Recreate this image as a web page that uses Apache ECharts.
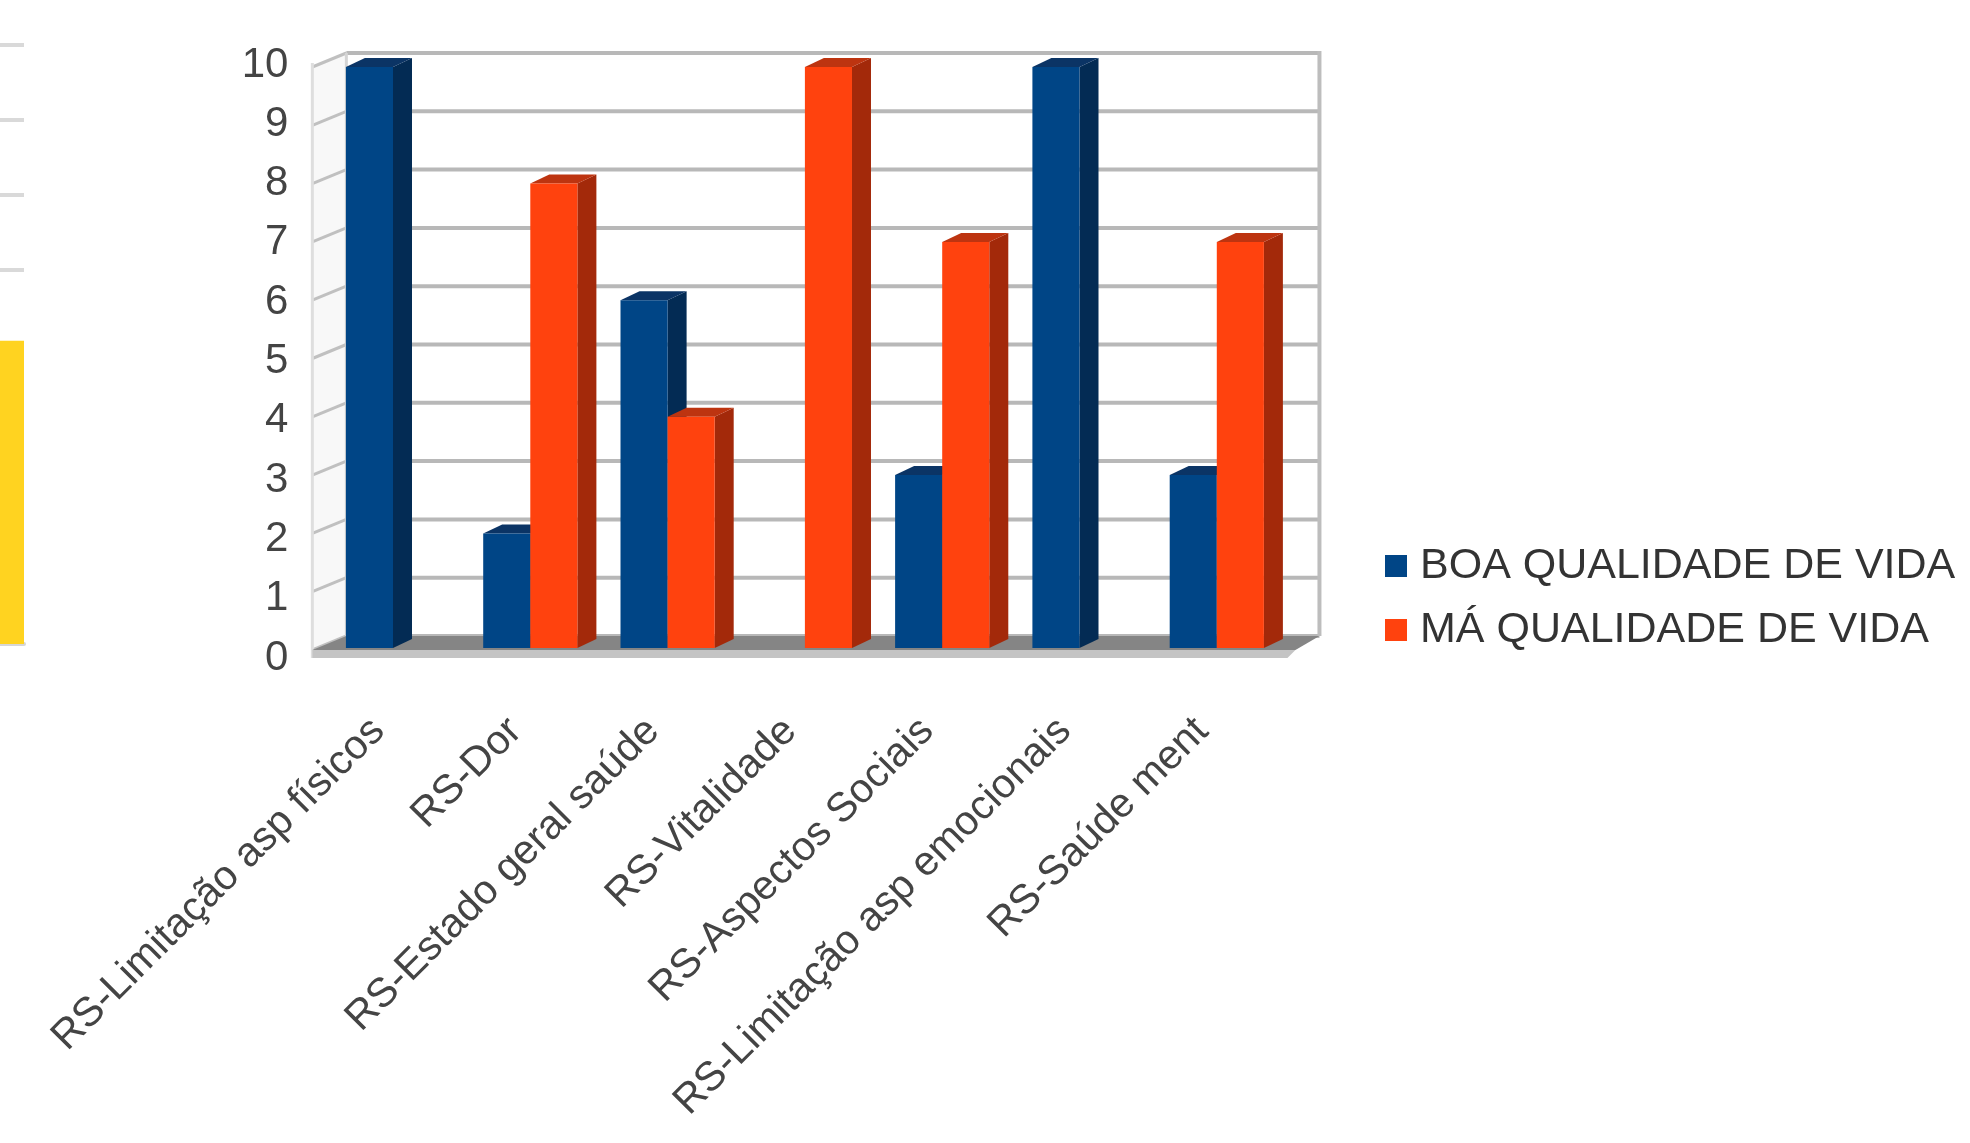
<!DOCTYPE html>
<html>
<head>
<meta charset="utf-8">
<script src="https://cdn.jsdelivr.net/npm/echarts@6/dist/echarts.min.js"></script>
<style>
html,body{margin:0;padding:0;background:#ffffff;}
#chart{width:1970px;height:1143px;}
</style>
</head>
<body>
<div id="chart"></div>
<script>
// ---- data ----
const categories = [
  'RS-Limitação asp físicos',
  'RS-Dor',
  'RS-Estado geral saúde',
  'RS-Vitalidade',
  'RS-Aspectos Sociais',
  'RS-Limitação asp emocionais',
  'RS-Saúde ment'
];
const seriesNames = ['BOA QUALIDADE DE VIDA', 'MÁ QUALIDADE DE VIDA'];
const boaValues = [10, 2, 6, 0, 3, 10, 3];
const maValues = [0, 8, 4, 10, 7, 0, 7];
const yTicks = [0, 1, 2, 3, 4, 5, 6, 7, 8, 9, 10];
// partially visible neighbouring chart on the left edge
const leftCategories = [''];
const leftValues = [4.05];
const leftTicks = [0, 1, 2, 3, 4, 5, 6, 7, 8];

// ---- styles ----
const FONT = 'Liberation Sans';
const BLUE = { front: '#004586', side: '#032b54', top: '#0b3465' };
const RED = { front: '#ff420e', side: '#a3290a', top: '#bd3410' };

const chart = echarts.init(document.getElementById('chart'));

function barRenderer(sideIdx, colors) {
  return function (params, api) {
    const v = api.value(1);
    if (!v) return null;
    const base = api.coord([api.value(0), 0]);
    const top = api.coord([api.value(0), v]);
    const band = api.size([1, 0])[0];
    const bw = band * 0.343;
    const dx = 19, dy = 9;
    const x0 = sideIdx === 0 ? base[0] - bw : base[0];
    const x1 = x0 + bw;
    const yT = top[1], yB = base[1] - 2;
    return {
      type: 'group',
      children: [
        { type: 'polygon', shape: { points: [[x1, yT], [x1 + dx, yT - dy], [x1 + dx, yB - dy], [x1, yB]] }, style: { fill: colors.side } },
        { type: 'polygon', shape: { points: [[x0, yT], [x0 + dx, yT - dy], [x1 + dx, yT - dy], [x1, yT]] }, style: { fill: colors.top } },
        { type: 'rect', shape: { x: x0, y: yT, width: bw, height: yB - yT }, style: { fill: colors.front } }
      ]
    };
  };
}

function decorRenderer(params, api) {
  const band = api.size([1, 0])[0];
  const xL = api.coord([0, 0])[0] - band / 2;
  const xR = api.coord([categories.length - 1, 0])[0] + band / 2;
  const DY = 14;
  const fL = xL - 12, bL = xL + 22, fR = xR + 10, bR = xR + 34;
  const yf = v => api.coord([0, v])[1];
  const yb = v => yf(v) - DY;
  const ymax = yTicks[yTicks.length - 1];
  const children = [];
  children.push({ type: 'polygon', shape: { points: [[fL, yf(ymax)], [bL, yb(ymax)], [bL, yb(0)], [fL, yf(0)]] }, style: { fill: '#f8f8f8' } });
  yTicks.forEach(v => {
    children.push({ type: 'line', shape: { x1: bL, y1: yb(v), x2: bR, y2: yb(v) }, style: { stroke: '#b8b8b8', lineWidth: 4 } });
    children.push({ type: 'line', shape: { x1: fL, y1: yf(v), x2: bL, y2: yb(v) }, style: { stroke: '#c0c0c0', lineWidth: 3 } });
  });
  children.push({ type: 'line', shape: { x1: fL, y1: yf(ymax) - 4, x2: fL, y2: yf(0) + 8 }, style: { stroke: '#dedede', lineWidth: 3 } });
  children.push({ type: 'line', shape: { x1: bL, y1: yb(ymax), x2: bL, y2: yb(0) }, style: { stroke: '#d4d4d4', lineWidth: 3 } });
  children.push({ type: 'line', shape: { x1: bR, y1: yb(ymax) - 2, x2: bR, y2: yb(0) }, style: { stroke: '#bdbdbd', lineWidth: 4 } });
  children.push({ type: 'polygon', shape: { points: [[bL, yb(0)], [bR, yb(0)], [fR, yf(0)], [fL, yf(0)]] }, style: { fill: '#858585' } });
  children.push({ type: 'polygon', shape: { points: [[fL, yf(0)], [fR, yf(0)], [fR - 8, yf(0) + 8], [fL, yf(0) + 8]] }, style: { fill: '#c4c4c4' } });
  return { type: 'group', children: children };
}

const option = {
  backgroundColor: '#ffffff',
  animation: false,
  legend: {
    data: seriesNames,
    orient: 'vertical',
    left: 1380,
    top: 539,
    icon: 'rect',
    itemWidth: 22,
    itemHeight: 22,
    itemGap: 20,
    textStyle: { fontFamily: FONT, fontSize: 43, color: '#333333', lineHeight: 44, padding: [0, 0, 0, 8] }
  },
  grid: [
    { left: 324.35, top: 67, width: 961.1, height: 583 },
    { left: -40, top: 45, width: 64, height: 599 },
    { left: 324.35, top: 65, width: 961.1, height: 593 }
  ],
  xAxis: [
    {
      gridIndex: 0,
      type: 'category',
      data: categories,
      axisLine: { show: false },
      axisTick: { show: false },
      splitLine: { show: false },
      axisLabel: { interval: 0, rotate: 45, margin: 60, fontFamily: FONT, fontSize: 41, color: '#444444', padding: [0, 21, 0, 0] }
    },
    {
      gridIndex: 1,
      type: 'category',
      data: leftCategories,
      axisLine: { show: true, lineStyle: { color: '#d6d6d6', width: 4 } },
      axisTick: { show: false },
      axisLabel: { show: false }
    },
    {
      gridIndex: 2,
      type: 'category',
      data: categories,
      show: false
    }
  ],
  yAxis: [
    {
      gridIndex: 0,
      type: 'value',
      min: yTicks[0],
      max: yTicks[yTicks.length - 1],
      interval: 1,
      axisLine: { show: false },
      axisTick: { show: false },
      splitLine: { show: false },
      axisLabel: { show: false }
    },
    {
      gridIndex: 1,
      type: 'value',
      min: leftTicks[0],
      max: leftTicks[leftTicks.length - 1],
      interval: 1,
      axisLine: { show: false },
      axisTick: { show: false },
      axisLabel: { show: false },
      splitLine: { show: true, lineStyle: { color: '#d9d9d9', width: 4 } }
    },
    {
      gridIndex: 2,
      type: 'value',
      min: yTicks[0],
      max: yTicks[yTicks.length - 1],
      interval: 1,
      axisLine: { show: false },
      axisTick: { show: false },
      splitLine: { show: false },
      axisLabel: { margin: 36, fontFamily: FONT, fontSize: 42, color: '#444444', verticalAlign: 'middle' }
    }
  ],
  series: [
    {
      name: 'decor',
      type: 'custom',
      xAxisIndex: 0, yAxisIndex: 0,
      z: 1,
      silent: true,
      renderItem: decorRenderer,
      data: [[0, 0]],
      encode: { x: 0, y: 1 }
    },
    {
      name: seriesNames[0],
      type: 'custom',
      xAxisIndex: 0, yAxisIndex: 0,
      z: 2,
      itemStyle: { color: BLUE.front },
      renderItem: barRenderer(0, BLUE),
      data: boaValues.map((v, i) => [i, v]),
      encode: { x: 0, y: 1 }
    },
    {
      name: seriesNames[1],
      type: 'custom',
      xAxisIndex: 0, yAxisIndex: 0,
      z: 3,
      itemStyle: { color: RED.front },
      renderItem: barRenderer(1, RED),
      data: maValues.map((v, i) => [i, v]),
      encode: { x: 0, y: 1 }
    },
    {
      name: 'left',
      type: 'bar',
      xAxisIndex: 1, yAxisIndex: 1,
      barWidth: '100%',
      itemStyle: { color: '#ffd320' },
      data: leftValues
    }
  ]
};
chart.setOption(option);
</script>
</body>
</html>
